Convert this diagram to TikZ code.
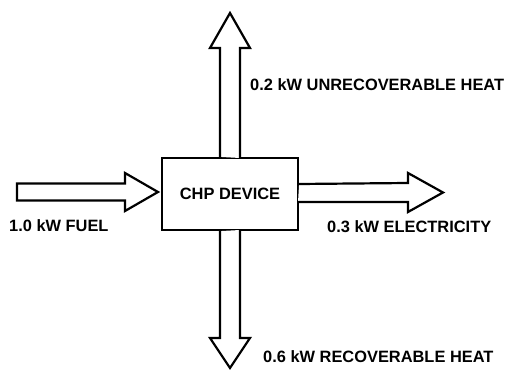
\documentclass[tikz,border=0pt]{standalone}
\usepackage{fontspec}
\setmainfont{Liberation Sans}
\begin{document}
\begin{tikzpicture}[x=1pt,y=-1pt,
  flow/.style={draw=black,line width=2.2pt,fill=white,line join=miter},
  lbl/.style={font=\fontsize{16.4}{19}\selectfont\bfseries,inner sep=0pt,anchor=west},
  devbox/.style={draw=black,line width=2.2pt,minimum width=136pt,minimum height=72pt,inner sep=0pt,font=\fontsize{16.4}{19}\selectfont\bfseries}]
\useasboundingbox (0,0) rectangle (513,371);
\node[devbox] (chp) at (230,194) {CHP DEVICE};
% left input arrow (fuel)
\coordinate (fuelTail) at (17,192);
\draw[flow] (fuelTail) ++(0,-8.5) -- (125,183.5) -- (125,173) -- (158,192) -- (125,211) -- (125,200.5) -- (17,200.5) -- cycle;
% right output arrow (electricity)
\draw[flow] (chp.east) ++(0,-10) -- (408,183) -- (408,173) -- (443,192.5) -- (408,212) -- (408,202) -- (298,202);
% top output arrow
\draw[flow] (chp.north) ++(-10,0) -- (220,48) -- (210,48) -- (230,13) -- (250,48) -- (240,48) -- (240,158);
% bottom output arrow
\draw[flow] (chp.south) ++(-10,0) -- (220,338) -- (210,338) -- (230,368) -- (250,338) -- (240,338) -- (240,230);
\node[lbl] (unrec) at (250,85) {0.2 kW UNRECOVERABLE HEAT};
\node[lbl] (rec) at (263,357) {0.6 kW RECOVERABLE HEAT};
\node[lbl] (elec) at (327,227) {0.3 kW ELECTRICITY};
\node[lbl] (fuel) at (9,226) {1.0 kW FUEL};
\end{tikzpicture}
\end{document}
